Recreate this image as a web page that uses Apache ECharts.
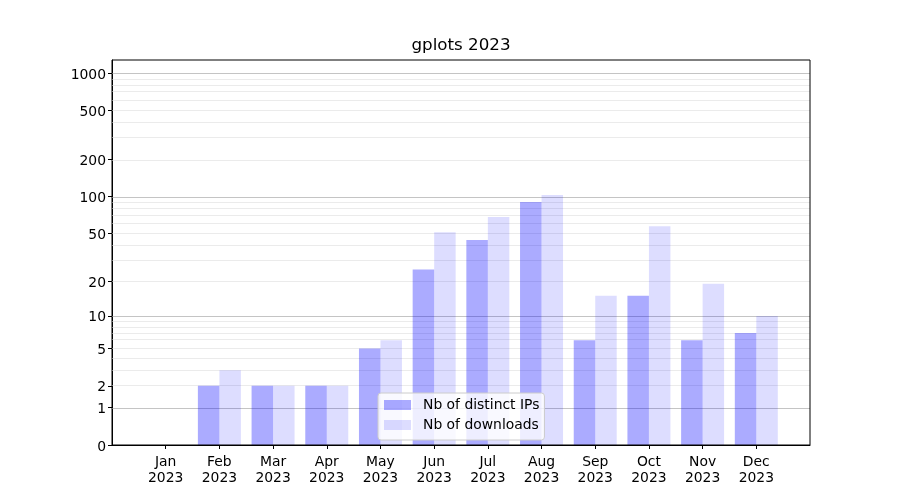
<!DOCTYPE html>
<html>
<head>
<meta charset="utf-8">
<script src="https://cdn.jsdelivr.net/npm/echarts@6/dist/echarts.min.js"></script>
<style>html,body{margin:0;padding:0;background:#fff}#c{width:900px;height:500px}</style>
</head>
<body>
<div id="c"></div>
<script>
const months = ['Jan','Feb','Mar','Apr','May','Jun','Jul','Aug','Sep','Oct','Nov','Dec'];
const yearLabel = '2023';
const distinctIPs = [0, 2, 2, 2, 5, 25, 44, 90, 6, 15, 6, 7];
const downloads   = [0, 3, 2, 2, 6, 51, 68, 103, 15, 57, 19, 10];
const yTickLabels = [0, 1, 2, 5, 10, 20, 50, 100, 200, 500, 1000];
const majorGrid = [1, 10, 100, 1000];
const minorGrid = [2,3,4,5,6,7,8,9,20,30,40,50,60,70,80,90,200,300,400,500,600,700,800,900];
const yTop = 1273;

const tf = v => Math.log10(v + 1);
const FONT = 'DejaVu Sans';
const chart = echarts.init(document.getElementById('c'), null, {renderer: 'canvas'});

const gridData = majorGrid.map(v => ({yAxis: tf(v), lineStyle: {color: '#c4c4c4', width: 1, type: 'solid'}}))
  .concat(minorGrid.map(v => ({yAxis: tf(v), lineStyle: {color: '#ebebeb', width: 1, type: 'solid'}})));

const idx = months.map((m, i) => i);

chart.setOption({
  animation: false,
  title: {
    text: 'gplots 2023',
    left: 461, top: 37, textAlign: 'center', padding: 0,
    textStyle: {fontFamily: FONT, fontSize: 16.7, fontWeight: 'normal', color: '#000'}
  },
  grid: {left: 112, right: 90, top: 60, bottom: 55, show: true, borderColor: '#000', borderWidth: 1, backgroundColor: 'transparent', z: 5},
  legend: {
    orient: 'vertical', left: 378, top: 393, z: 10,
    backgroundColor: 'rgba(255,255,255,0.8)', borderColor: '#cccccc', borderWidth: 1, borderRadius: 3,
    padding: [5, 5, 8, 6], itemGap: 6, itemWidth: 27, itemHeight: 10, icon: 'rect',
    textStyle: {fontFamily: FONT, fontSize: 13.9, color: '#000', lineHeight: 14, padding: [0, 0, 0, 7]},
    data: ['Nb of distinct IPs', 'Nb of downloads']
  },
  xAxis: {
    type: 'value', min: -1, max: 12,
    axisLine: {show: true, onZero: false, lineStyle: {color: '#000', width: 1}},
    axisTick: {show: true, customValues: idx, length: 4, lineStyle: {color: '#000'}},
    axisLabel: {
      customValues: idx, margin: 9, color: '#000', fontFamily: FONT, fontSize: 13.9, lineHeight: 16,
      formatter: v => months[Math.round(v)] + '\n' + yearLabel
    },
    splitLine: {show: false}
  },
  yAxis: {
    type: 'value', min: 0, max: tf(yTop),
    axisLine: {show: true, onZero: false, lineStyle: {color: '#000', width: 1}},
    axisTick: {show: true, customValues: yTickLabels.map(tf), length: 4, lineStyle: {color: '#000'}},
    axisLabel: {
      customValues: yTickLabels.map(tf), margin: 6, color: '#000', fontFamily: FONT, fontSize: 13.9,
      formatter: v => '{a|' + String(Math.round(Math.pow(10, v) - 1)) + '}',
      rich: {a: {fontFamily: FONT, fontSize: 13.9, color: '#000', padding: [4, 0, 0, 0]}}
    },
    splitLine: {show: false}
  },
  series: [
    {
      type: 'line', data: [], z: 1, silent: true,
      markLine: {silent: true, z: 1, symbol: 'none', label: {show: false}, animation: false,
        lineStyle: {type: 'solid'}, data: gridData}
    },
    {
      name: 'Nb of distinct IPs', type: 'bar', z: 3, barWidth: 21.5, barGap: '0%',
      itemStyle: {color: 'rgba(0,0,255,0.33)'},
      data: distinctIPs.map((v, i) => [i, tf(v)])
    },
    {
      name: 'Nb of downloads', type: 'bar', z: 3, barWidth: 21.5, barGap: '0%',
      itemStyle: {color: 'rgba(0,0,255,0.133)'},
      data: downloads.map((v, i) => [i, tf(v)])
    }
  ]
});
</script>
</body>
</html>
